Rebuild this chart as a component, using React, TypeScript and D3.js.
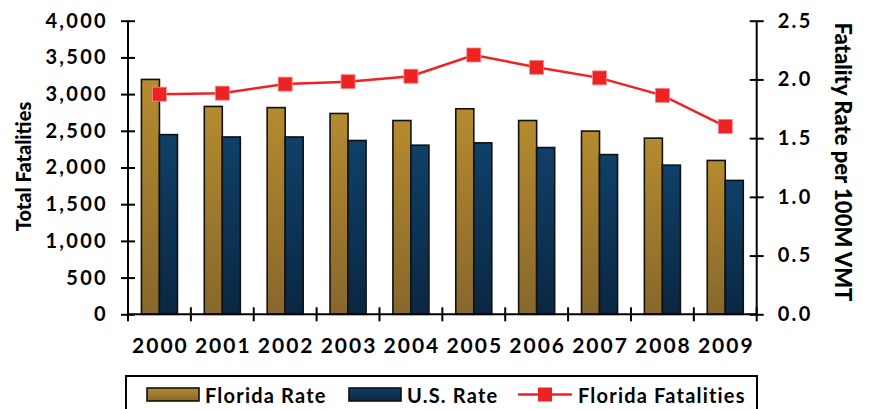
import React, { useRef, useEffect } from 'react';
import * as d3 from 'd3';

const years = ['2000', '2001', '2002', '2003', '2004', '2005', '2006', '2007', '2008', '2009'];
const floridaRate = [2.0, 1.77, 1.76, 1.71, 1.65, 1.75, 1.65, 1.56, 1.5, 1.31];
const usRate = [1.53, 1.51, 1.51, 1.48, 1.44, 1.46, 1.42, 1.36, 1.27, 1.14];
const floridaFatalities = [2999, 3013, 3136, 3169, 3244, 3533, 3365, 3221, 2983, 2560];
const leftTicks = [0, 500, 1000, 1500, 2000, 2500, 3000, 3500, 4000];
const rightTicks = [0, 0.5, 1.0, 1.5, 2.0, 2.5];

const FONT = "'Lato', 'DejaVu Sans', sans-serif";

const App = () => {
  const ref = useRef<SVGSVGElement>(null);

  useEffect(() => {
    const svg = d3.select(ref.current);
    svg.selectAll('*').remove();

    const width = 869, height = 409;
    const left = 128, right = 756.7, top = 20.7, bottom = 314.3;

    svg.attr('width', width).attr('height', height);

    const defs = svg.append('defs');
    const grad = (id, c1, c2) => {
      const g = defs.append('linearGradient').attr('id', id)
        .attr('x1', 0).attr('y1', 0).attr('x2', 0).attr('y2', 1);
      g.append('stop').attr('offset', '0%').attr('stop-color', c1);
      g.append('stop').attr('offset', '100%').attr('stop-color', c2);
    };
    grad('gFl', '#b58b2f', '#87672c');
    grad('gUs', '#0f4068', '#0a2742');

    const x = d3.scaleBand().domain(years).range([left, right])
      .paddingInner(0.427).paddingOuter(0.2135);
    const x1 = d3.scaleBand().domain(['fl', 'us']).range([0, x.bandwidth()]);
    const yL = d3.scaleLinear().domain([0, 4000]).range([bottom, top]);
    const yR = d3.scaleLinear().domain([0, 2.5]).range([bottom, top]);

    // bars (rates on right axis)
    const groups = svg.append('g').selectAll('g')
      .data(years).enter().append('g')
      .attr('transform', (d) => `translate(${x(d)},0)`);

    groups.append('rect')
      .attr('x', x1('fl'))
      .attr('y', (d, i) => yR(floridaRate[i]))
      .attr('width', x1.bandwidth())
      .attr('height', (d, i) => bottom - yR(floridaRate[i]))
      .attr('fill', 'url(#gFl)')
      .attr('stroke', '#111')
      .attr('stroke-width', 1.6);

    groups.append('rect')
      .attr('x', x1('us'))
      .attr('y', (d, i) => yR(usRate[i]))
      .attr('width', x1.bandwidth())
      .attr('height', (d, i) => bottom - yR(usRate[i]))
      .attr('fill', 'url(#gUs)')
      .attr('stroke', '#111')
      .attr('stroke-width', 1.6);

    // axes
    const axL = svg.append('g').attr('transform', `translate(${left},0)`)
      .call(d3.axisLeft(yL).tickValues(leftTicks).tickFormat(d3.format(',')).tickSize(7).tickPadding(13));
    axL.selectAll('line').attr('x1', 7);
    const axR = svg.append('g').attr('transform', `translate(${right},0)`)
      .call(d3.axisRight(yR).tickValues(rightTicks).tickFormat(d3.format('.1f')).tickSize(7).tickPadding(14));
    axR.selectAll('line').attr('x1', -7);
    [axL, axR].forEach((ax) => {
      ax.select('.domain').attr('stroke', '#000').attr('stroke-width', 2).attr('d', `M0,${top}V${bottom}`);
      ax.selectAll('line').attr('stroke', '#000').attr('stroke-width', 2);
      ax.selectAll('text').attr('font-family', FONT).attr('font-size', 20)
        .attr('font-weight', 700).attr('fill', '#000').attr('letter-spacing', 2.3);
    });

    // x axis
    svg.append('line').attr('x1', left).attr('x2', right)
      .attr('y1', bottom).attr('y2', bottom)
      .attr('stroke', '#000').attr('stroke-width', 2);
    const step = x.step();
    const bounds = years.map((d) => x(d) - step * x.paddingInner() / 2).concat([right]);
    svg.append('g').selectAll('line').data(bounds).enter().append('line')
      .attr('x1', (d) => d).attr('x2', (d) => d)
      .attr('y1', bottom - 7).attr('y2', bottom + 7)
      .attr('stroke', '#000').attr('stroke-width', 2);
    svg.append('g').selectAll('text').data(years).enter().append('text')
      .attr('x', (d) => x(d) + x.bandwidth() / 2 + 1)
      .attr('y', 353)
      .attr('text-anchor', 'middle')
      .attr('font-family', FONT).attr('font-size', 21).attr('font-weight', 700)
      .attr('letter-spacing', 2)
      .text((d) => d);

    // line
    const line = d3.line()
      .x((d, i) => x(years[i]) + x.bandwidth() / 2)
      .y((d) => yL(d));
    svg.append('path').datum(floridaFatalities)
      .attr('d', line).attr('fill', 'none')
      .attr('stroke', '#ee2222').attr('stroke-width', 2.5);
    svg.append('g').selectAll('rect').data(floridaFatalities).enter().append('rect')
      .attr('x', (d, i) => x(years[i]) + x.bandwidth() / 2 - 7)
      .attr('y', (d) => yL(d) - 7)
      .attr('width', 14).attr('height', 14)
      .attr('fill', '#ee2222').attr('stroke', '#f58a8a').attr('stroke-width', 0.8);

    // axis titles
    svg.append('text')
      .attr('transform', `translate(31,${(93 + 240) / 2}) rotate(-90)`)
      .attr('text-anchor', 'middle')
      .attr('font-family', FONT).attr('font-size', 20).attr('font-weight', 900)
      .text('Total Fatalities');
    svg.append('text')
      .attr('transform', `translate(835,${(18 + 306) / 2}) rotate(90)`)
      .attr('text-anchor', 'middle')
      .attr('font-family', FONT).attr('font-size', 22).attr('font-weight', 900)
      .text('Fatality Rate per 100M VMT');

    // legend
    const lg = svg.append('g');
    lg.append('rect').attr('x', 126).attr('y', 376).attr('width', 631).attr('height', 60)
      .attr('fill', '#fff').attr('stroke', '#000').attr('stroke-width', 2);
    const items = [
      { label: 'Florida Rate', fill: 'url(#gFl)', sx: 147, tx: 205 },
      { label: 'U.S. Rate', fill: 'url(#gUs)', sx: 349, tx: 407 },
    ];
    items.forEach((it) => {
      lg.append('rect').attr('x', it.sx).attr('y', 388).attr('width', 52).attr('height', 13)
        .attr('fill', it.fill).attr('stroke', '#111').attr('stroke-width', 1.6);
      lg.append('text').attr('x', it.tx).attr('y', 403)
        .attr('font-family', FONT).attr('font-size', 20).attr('font-weight', 700)
        .attr('letter-spacing', 1.2)
        .text(it.label);
    });
    lg.append('line').attr('x1', 518).attr('x2', 572).attr('y1', 394.5).attr('y2', 394.5)
      .attr('stroke', '#ee2222').attr('stroke-width', 2.5);
    lg.append('rect').attr('x', 538).attr('y', 387.5).attr('width', 14).attr('height', 14)
      .attr('fill', '#ee2222');
    lg.append('text').attr('x', 578).attr('y', 403)
      .attr('font-family', FONT).attr('font-size', 20).attr('font-weight', 700)
      .attr('letter-spacing', 1.2)
      .text('Florida Fatalities');
  }, []);

  return <svg ref={ref} style={{ position: 'absolute', left: 0, top: 0 }}></svg>;
};

export default App;
